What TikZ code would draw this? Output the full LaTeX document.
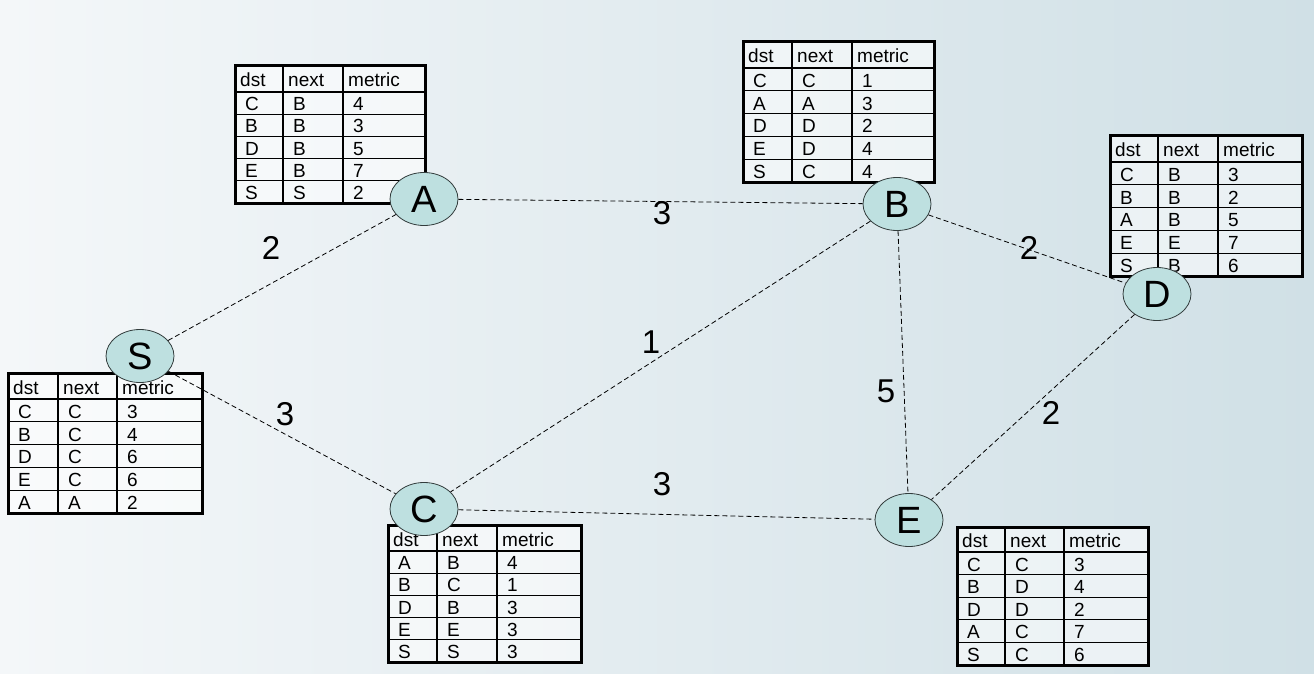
\documentclass[tikz,border=0pt]{standalone}
\usepackage{fontspec}
\setmainfont{Liberation Sans}
\usetikzlibrary{shapes.geometric}
\definecolor{nodefill}{RGB}{190,224,224}
\definecolor{nodeline}{RGB}{50,60,60}
\definecolor{bgL}{RGB}{244,247,249}
\definecolor{bgR}{RGB}{208,224,230}
\tikzset{
  router/.style={ellipse, draw=nodeline, line width=0.8pt, fill=nodefill,
    minimum width=68pt, minimum height=53pt, inner sep=0pt,
    font=\fontsize{38}{38}\selectfont},
  link/.style={draw=black, line width=0.8pt, dash pattern=on 5pt off 3pt},
  cost/.style={inner sep=0pt, font=\fontsize{33}{33}\selectfont},
  cell/.style={anchor=base west, inner sep=0pt, font=\fontsize{19}{19}\selectfont},
  thinrule/.style={line width=1.3pt, black},
  thickrule/.style={line width=3pt, black},
}
% #1 name, #2 x0, #3 c1, #4 c2, #5 x1, #6 y0, #7 yh, #8 y1, #9 rows
\newcommand\rtab[9]{%
  \fill[white,opacity=0.55] (#2,#6) rectangle (#5,#8);
  \draw[thinrule] (#3,#6) -- (#3,#8) (#4,#6) -- (#4,#8) (#2,#7) -- (#5,#7);
  \foreach \k in {1,2,3,4}
    \draw[thinrule] (#2,{#7+\k*(#8-#7)/5}) -- (#5,{#7+\k*(#8-#7)/5});
  \draw[thickrule] (#2,#6) rectangle (#5,#8);
  \node[cell] (#1-h1) at ({#2+5},{#7-5}) {dst};
  \node[cell] (#1-h2) at ({#3+5},{#7-5}) {next};
  \node[cell] (#1-h3) at ({#4+5},{#7-5}) {metric};
  \foreach \da/\nx/\mt [count=\i] in {#9} {
    \node[cell] (#1-\i-a) at ({#2+10},{#7+\i*(#8-#7)/5-3.5}) {\da};
    \node[cell] (#1-\i-b) at ({#3+10},{#7+\i*(#8-#7)/5-3.5}) {\nx};
    \node[cell] (#1-\i-c) at ({#4+10},{#7+\i*(#8-#7)/5-3.5}) {\mt};
  }
}
\begin{document}
\begin{tikzpicture}[x=1pt,y=-1pt]
\useasboundingbox (0,0) rectangle (1314,674);
\shade[left color=bgL, right color=bgR] (0,0) rectangle (1314,674);

% routing tables
\rtab{tA}{235}{283}{343}{425}{66}{92}{203}{C/B/4,B/B/3,D/B/5,E/B/7,S/S/2}
\rtab{tB}{743}{792}{852}{934}{42}{68}{182}{C/C/1,A/A/3,D/D/2,E/D/4,S/C/4}
\rtab{tD}{1110}{1158}{1218}{1302}{136}{162}{276}{C/B/3,B/B/2,A/B/5,E/E/7,S/B/6}
\rtab{tS}{8}{58}{117}{202}{373}{399}{513}{C/C/3,B/C/4,D/C/6,E/C/6,A/A/2}
\rtab{tC}{388}{437}{497}{581}{525}{551}{662}{A/B/4,B/C/1,D/B/3,E/E/3,S/S/3}
\rtab{tE}{957}{1005}{1064}{1148}{527}{552}{665}{C/C/3,B/D/4,D/D/2,A/C/7,S/C/6}

% routers (placed as coordinates first so links can be drawn beneath)
\path (424,199) node[router, draw=none, fill=none] (A) {\phantom{A}}
      (897,204) node[router, draw=none, fill=none] (B) {\phantom{B}}
      (1157,294) node[router, draw=none, fill=none] (D) {\phantom{D}}
      (140,356) node[router, draw=none, fill=none] (S) {\phantom{S}}
      (424,509) node[router, draw=none, fill=none] (C) {\phantom{C}}
      (909,520) node[router, draw=none, fill=none] (E) {\phantom{E}};

% links
\draw[link] (S) -- (A);
\draw[link] (A) -- (B);
\draw[link] (B) -- (D);
\draw[link] (B) -- (C);
\draw[link] (S) -- (C);
\draw[link] (B) -- (E);
\draw[link] (D) -- (E);
\draw[link] (C) -- (E);

% routers drawn on top
\node[router] (nA) at (A) {A};
\node[router] (nB) at (B) {B};
\node[router] (nD) at (D) {D};
\node[router] (nS) at (S) {S};
\node[router] (nC) at (C) {C};
\node[router] (nE) at (E) {E};

% link costs
\node[cost] (cSA) at (271,248) {2};
\node[cost] (cAB) at (662,213) {3};
\node[cost] (cBD) at (1029,248) {2};
\node[cost] (cBC) at (651,342) {1};
\node[cost] (cSC) at (285,414) {3};
\node[cost] (cBE) at (886,391) {5};
\node[cost] (cDE) at (1051,413) {2};
\node[cost] (cCE) at (662,484) {3};
\end{tikzpicture}
\end{document}
